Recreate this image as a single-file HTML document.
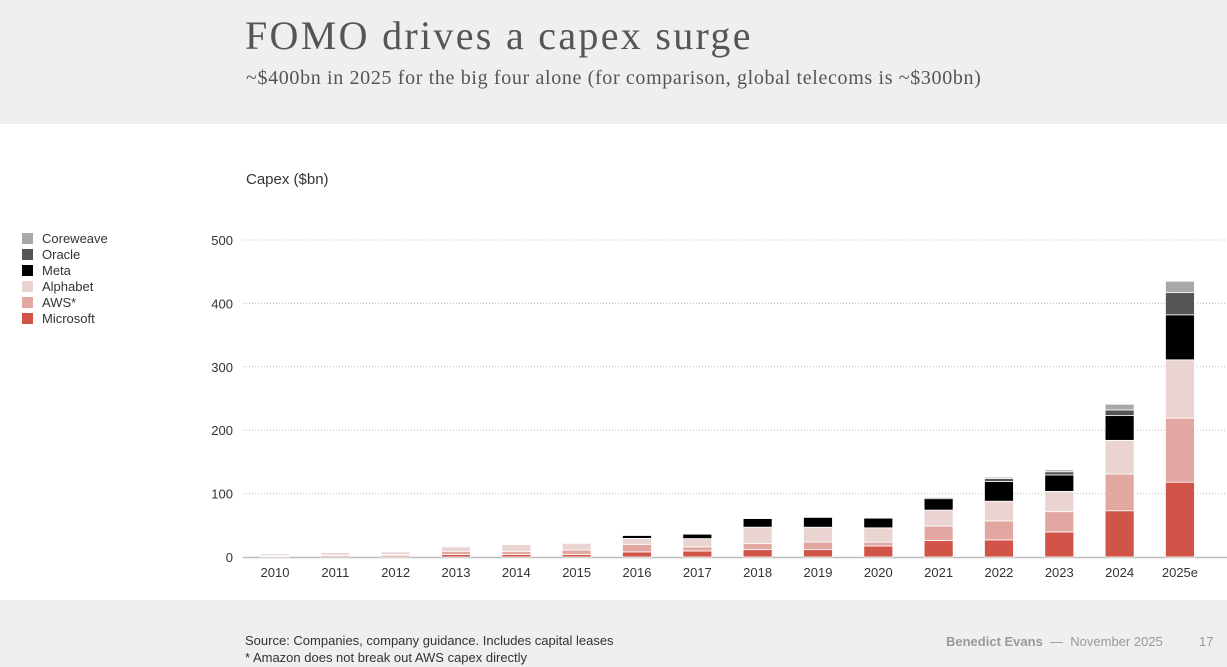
<!DOCTYPE html>
<html><head><meta charset="utf-8"><style>
html,body{margin:0;padding:0;width:1227px;height:667px;overflow:hidden;background:#fff;font-family:"Liberation Sans",sans-serif}
#hdr{position:absolute;left:0;top:0;width:1227px;height:124px;background:#efefef}
#ftr{position:absolute;left:0;top:600px;width:1227px;height:67px;background:#efefef}
.t{position:absolute;white-space:nowrap}
</style></head><body>
<div id="hdr"></div>
<div id="ftr"></div>
<div class="t" style="left:245px;top:12px;font-family:'Liberation Serif',serif;font-size:40px;letter-spacing:2.3px;color:#555">FOMO drives a capex surge</div>
<div class="t" style="left:246px;top:67px;font-family:'Liberation Serif',serif;font-size:20px;letter-spacing:0.65px;color:#555">~$400bn in 2025 for the big four alone (for comparison, global telecoms is ~$300bn)</div>
<div class="t" style="left:246px;top:171px;font-size:15px;color:#333">Capex ($bn)</div>
<div class="t" style="left:245px;top:632px;font-size:13px;color:#333;line-height:17px">Source: Companies, company guidance. Includes capital leases<br>* Amazon does not break out AWS capex directly</div>
<div class="t" style="left:946px;top:634px;font-size:13px;color:#999"><b>Benedict Evans</b> &nbsp;—&nbsp; November 2025</div>
<div class="t" style="left:1199px;top:634px;font-size:13px;color:#999">17</div>
<svg id="c" width="1227" height="667" style="position:absolute;left:0;top:0"></svg>
<script>
const years=["2010","2011","2012","2013","2014","2015","2016","2017","2018","2019","2020","2021","2022","2023","2024","2025e"];
const microsoft=[1,2,2,4,4,4,8,9.5,11.6,11.6,17.4,26,27,39.5,73,118];
const aws=[1,1,2,5,5,7,12,6.5,9.5,12,6,23,30,32,58,101];
const alphabet=[3,4,4,7,10.5,10.5,9.4,13,26,23.4,22.6,25,31,32,53,92];
const meta=[0,0,0,0,0,0,4.5,7,13.5,15.5,15.3,18,31,26,39,71];
const oracle=[0,0,0,0,0,0,0,0,0,0,0,2,5,5,9,35];
const coreweave=[0,0,0,0,0,0,0,0,0,0,0,1,2,3,9,18];
const yTicks=[0,100,200,300,400,500];
const seriesNames=["Coreweave","Oracle","Meta","Alphabet","AWS*","Microsoft"];
const colors={"Microsoft":"#d05448","AWS*":"#e2a7a1","Alphabet":"#ead4d2","Meta":"#000","Oracle":"#555","Coreweave":"#a8a8a8"};
const svg=document.getElementById('c');const NS="http://www.w3.org/2000/svg";
const y=v=>557-v*0.634;const x=i=>275+i*60.33;
function mk(t,a){const e=document.createElementNS(NS,t);for(const k in a)e.setAttribute(k,a[k]);svg.appendChild(e);return e;}
yTicks.forEach(v=>{
 if(v>0){const g=mk('line',{x1:243,x2:1227,y1:y(v),y2:y(v),stroke:'#bbb','stroke-dasharray':'1 2','stroke-width':1});
 
 }
 const t=mk('text',{x:233,y:y(v)+5,'text-anchor':'end','font-size':13,fill:'#333','font-family':'Liberation Sans, sans-serif'});t.textContent=v;
 
 
});
const ax=mk('line',{x1:243,x2:1227,y1:557.5,y2:557.5,stroke:'#bbb','stroke-width':1.5});


const stack=[["Microsoft",microsoft],["AWS*",aws],["Alphabet",alphabet],["Meta",meta],["Oracle",oracle],["Coreweave",coreweave]];
years.forEach((yr,i)=>{
 let base=0;
 stack.forEach(([n,arr])=>{const v=arr[i];if(v>0){
  const r=mk('rect',{x:x(i)-14.5,width:29,y:y(base+v),height:v*0.634,fill:colors[n],stroke:'#fff','stroke-width':0.8});
  
  }
  base+=v;});
 const t=mk('text',{x:x(i),y:577,'text-anchor':'middle','font-size':13,fill:'#333','font-family':'Liberation Sans, sans-serif'});t.textContent=yr;
 
 
});
seriesNames.forEach((n,k)=>{
 const r=mk('rect',{x:22,y:233+k*16,width:11,height:11,fill:colors[n]});
 
 
 const t=mk('text',{x:42,y:243+k*16,'font-size':13,fill:'#333','font-family':'Liberation Sans, sans-serif'});t.textContent=n;
 
 
});
</script>
</body></html>
